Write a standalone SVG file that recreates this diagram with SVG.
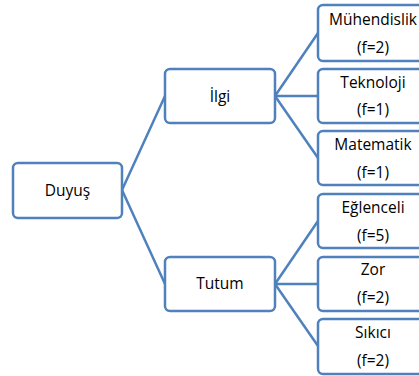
<svg xmlns="http://www.w3.org/2000/svg" width="419" height="376" viewBox="0 0 419 376">
<style>
.box{fill:#fff;stroke:#4F81BD;stroke-width:2.5}
.t{font-family:"Open Sans","Liberation Sans",sans-serif;font-size:15.5px;fill:#000;text-anchor:middle}
.c line{stroke:#4F81BD;stroke-width:2.5}
</style>
<rect width="419" height="376" fill="#fff"/>
<g class="c" id="connectors">
<line x1="122" y1="190" x2="165" y2="96"/>
<line x1="122" y1="190" x2="165" y2="284"/>
<line x1="275" y1="96" x2="318" y2="33"/>
<line x1="275" y1="96" x2="318" y2="96"/>
<line x1="275" y1="96" x2="318" y2="158"/>
<line x1="275" y1="284" x2="318" y2="221"/>
<line x1="275" y1="284" x2="318" y2="284"/>
<line x1="275" y1="284" x2="318" y2="346"/>
</g>
<g id="duyus"><rect class="box" x="13" y="163" width="109" height="55" rx="5"/><text class="t" x="67.5" y="196">Duyuş</text></g>
<g id="ilgi"><rect class="box" x="165" y="69" width="110" height="54" rx="5"/><text class="t" x="220" y="102">İlgi</text></g>
<g id="tutum"><rect class="box" x="165" y="257" width="110" height="54" rx="5"/><text class="t" x="220" y="289">Tutum</text></g>
<g id="muhendislik"><rect class="box" x="318" y="5" width="110" height="56" rx="5"/><text class="t" x="373" y="25">Mühendislik</text><text class="t" x="373" y="53">(f=2)</text></g>
<g id="teknoloji"><rect class="box" x="318" y="69" width="110" height="54" rx="5"/><text class="t" x="373" y="88">Teknoloji</text><text class="t" x="373" y="115">(f=1)</text></g>
<g id="matematik"><rect class="box" x="318" y="131" width="110" height="54" rx="5"/><text class="t" x="373" y="150">Matematik</text><text class="t" x="373" y="178">(f=1)</text></g>
<g id="eglenceli"><rect class="box" x="318" y="194" width="110" height="54" rx="5"/><text class="t" x="373" y="213">Eğlenceli</text><text class="t" x="373" y="241">(f=5)</text></g>
<g id="zor"><rect class="box" x="318" y="257" width="110" height="54" rx="5"/><text class="t" x="373" y="275">Zor</text><text class="t" x="373" y="303">(f=2)</text></g>
<g id="sikici"><rect class="box" x="318" y="319" width="110" height="55" rx="5"/><text class="t" x="373" y="338">Sıkıcı</text><text class="t" x="373" y="366">(f=2)</text></g>
</svg>
